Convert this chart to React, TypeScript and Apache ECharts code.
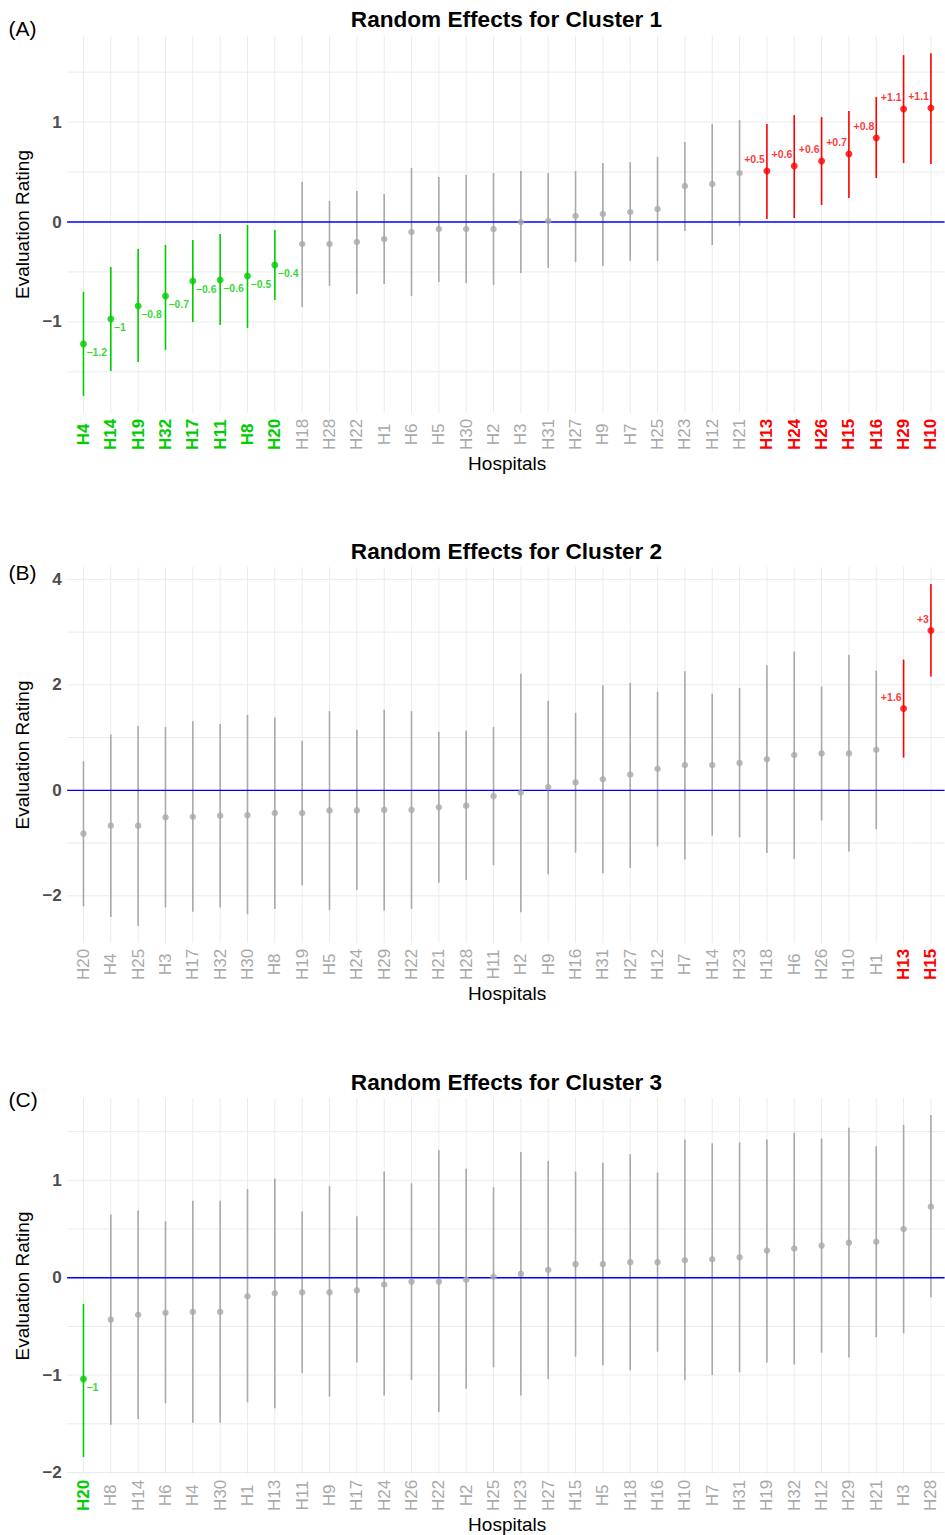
import React, { useEffect, useRef } from "react";
import * as echarts from "echarts";

// ---------------- DATA ----------------
const titles = ["Random Effects for Cluster 1", "Random Effects for Cluster 2", "Random Effects for Cluster 3"];
const tags = ["(A)", "(B)", "(C)"];
const xAxisTitle = "Hospitals";
const yAxisTitle = "Evaluation Rating";

// Cluster 1
const hospitals1 = ["H4","H14","H19","H32","H17","H11","H8","H20","H18","H28","H22","H1","H6","H5","H30","H2","H3","H31","H27","H9","H7","H25","H23","H12","H21","H13","H24","H26","H15","H16","H29","H10"];
const estimate1 = [-1.22,-0.97,-0.84,-0.74,-0.59,-0.58,-0.54,-0.43,-0.22,-0.22,-0.20,-0.17,-0.10,-0.07,-0.07,-0.07,0.00,0.01,0.06,0.08,0.10,0.13,0.36,0.38,0.49,0.51,0.56,0.61,0.68,0.84,1.13,1.14];
const lower1 = [-1.74,-1.49,-1.40,-1.28,-1.00,-1.03,-1.06,-0.78,-0.85,-0.64,-0.72,-0.62,-0.74,-0.60,-0.61,-0.63,-0.51,-0.46,-0.40,-0.44,-0.39,-0.39,-0.09,-0.23,-0.04,0.03,0.04,0.17,0.24,0.44,0.59,0.58];
const upper1 = [-0.70,-0.45,-0.27,-0.23,-0.18,-0.12,-0.03,-0.08,0.40,0.21,0.31,0.28,0.54,0.45,0.47,0.49,0.51,0.49,0.51,0.59,0.60,0.65,0.80,0.98,1.02,0.98,1.07,1.05,1.11,1.25,1.67,1.69];

// Cluster 2
const hospitals2 = ["H20","H4","H25","H3","H17","H32","H30","H8","H19","H5","H24","H29","H22","H21","H28","H11","H2","H9","H16","H31","H27","H12","H7","H14","H23","H18","H6","H26","H10","H1","H13","H15"];
const estimate2 = [-0.82,-0.67,-0.67,-0.51,-0.50,-0.48,-0.47,-0.43,-0.43,-0.38,-0.38,-0.37,-0.37,-0.32,-0.29,-0.11,-0.04,0.06,0.15,0.21,0.30,0.41,0.48,0.48,0.52,0.59,0.67,0.70,0.70,0.77,1.55,3.03];
const lower2 = [-2.20,-2.40,-2.57,-2.22,-2.30,-2.22,-2.35,-2.25,-1.80,-2.27,-1.89,-2.28,-2.25,-1.75,-1.70,-1.42,-2.31,-1.59,-1.18,-1.57,-1.47,-1.06,-1.31,-0.86,-0.89,-1.19,-1.30,-0.57,-1.16,-0.74,0.62,2.16];
const upper2 = [0.55,1.06,1.22,1.20,1.31,1.26,1.43,1.38,0.94,1.50,1.15,1.53,1.50,1.11,1.13,1.20,2.21,1.70,1.47,1.99,2.04,1.87,2.26,1.83,1.94,2.37,2.63,1.97,2.57,2.27,2.48,3.91];

// Cluster 3
const hospitals3 = ["H20","H8","H14","H6","H4","H30","H1","H13","H11","H9","H17","H24","H26","H22","H2","H25","H23","H27","H15","H5","H18","H16","H10","H7","H31","H19","H32","H12","H29","H21","H3","H28"];
const estimate3 = [-1.04,-0.43,-0.38,-0.36,-0.35,-0.35,-0.19,-0.16,-0.15,-0.15,-0.13,-0.07,-0.04,-0.04,-0.02,0.01,0.04,0.08,0.14,0.14,0.16,0.16,0.18,0.19,0.21,0.28,0.30,0.33,0.36,0.37,0.50,0.73];
const lower3 = [-1.84,-1.51,-1.45,-1.29,-1.49,-1.49,-1.28,-1.34,-0.98,-1.22,-0.87,-1.21,-1.05,-1.38,-1.14,-0.92,-1.21,-1.04,-0.81,-0.90,-0.95,-0.76,-1.05,-1.00,-0.97,-0.87,-0.89,-0.77,-0.82,-0.61,-0.57,-0.20];
const upper3 = [-0.27,0.65,0.69,0.58,0.79,0.79,0.91,1.02,0.68,0.94,0.63,1.09,0.97,1.31,1.12,0.93,1.29,1.20,1.09,1.18,1.27,1.08,1.42,1.38,1.39,1.42,1.49,1.43,1.54,1.35,1.57,1.67];

// y tick labels and grid lines
const yTicks1 = [-1, 0, 1];
const yGrid1 = [-1.5, -1, -0.5, 0.5, 1, 1.5];
const yTicks2 = [-2, 0, 2, 4];
const yGrid2 = [-2, -1, 1, 2, 3, 4];
const yTicks3 = [-2, -1, 0, 1];
const yGrid3 = [-2, -1.5, -1, -0.5, 0.5, 1, 1.5];
const referenceValue = 0;

// ---------------- STYLE / LAYOUT ----------------
const FONT = '"Liberation Sans", Arial, Helvetica, sans-serif';
const COL_UP = "#ff0000";
const COL_DOWN = "#00cd00";
const COL_NS = "#a9a9a9";
const GRID_COL = "#ebebeb";

const gridLeft = 69.8;
const gridWidth = 874.8;
const panelTop = [36, 567, 1098];
const panelHeight = [377, 376, 378];
const titleY = [19.5, 551, 1082];
const tagY = [28.5, 572.5, 1099];

const panels = [
  { hosp: hospitals1, est: estimate1, lo: lower1, hi: upper1, ticks: yTicks1, grid: yGrid1 },
  { hosp: hospitals2, est: estimate2, lo: lower2, hi: upper2, ticks: yTicks2, grid: yGrid2 },
  { hosp: hospitals3, est: estimate3, lo: lower3, hi: upper3, ticks: yTicks3, grid: yGrid3 },
];

const minus = (s: string) => s.replace("-", "\u2212");
const fmtTick = (v: number) => minus(String(Math.round(v * 1000) / 1000));
const fmtValue = (v: number) => {
  const r = Math.round(v * 10) / 10;
  const s = String(Math.abs(r));
  return (r > 0 ? "+" : r < 0 ? "\u2212" : "") + s;
};

function buildOption() {
  const grid: any[] = [];
  const xAxis: any[] = [];
  const yAxis: any[] = [];
  const series: any[] = [];
  const graphic: any[] = [];

  panels.forEach((p, k) => {
    const cls = p.hosp.map((_, i) => (p.lo[i] > 0 ? "r" : p.hi[i] < 0 ? "g" : "n"));
    const colors = cls.map((c) => (c === "r" ? COL_UP : c === "g" ? COL_DOWN : COL_NS));
    const dMin = Math.min(...p.lo);
    const dMax = Math.max(...p.hi);
    const pad = (dMax - dMin) * 0.05;

    grid.push({ left: gridLeft, width: gridWidth, top: panelTop[k], height: panelHeight[k], containLabel: false });
    xAxis.push({
      type: "category",
      gridIndex: k,
      data: p.hosp,
      boundaryGap: true,
      axisLine: { show: false },
      axisTick: { show: false },
      splitLine: { show: false },
      name: xAxisTitle,
      nameLocation: "middle",
      nameGap: 39,
      nameTextStyle: { fontFamily: FONT, fontSize: 19, color: "#000" },
      axisLabel: {
        interval: 0,
        rotate: 90,
        align: "center",
        verticalAlign: "middle",
        margin: 21.5,
        formatter: (val: string, idx: number) => `{${cls[idx]}|${val}}`,
        rich: {
          r: { color: COL_UP, fontWeight: "bold", fontSize: 17, fontFamily: FONT },
          g: { color: COL_DOWN, fontWeight: "bold", fontSize: 17, fontFamily: FONT },
          n: { color: COL_NS, fontWeight: "normal", fontSize: 17, fontFamily: FONT },
        },
      },
    });
    yAxis.push({
      type: "value",
      gridIndex: k,
      min: dMin - pad,
      max: dMax + pad,
      axisLine: { show: false },
      axisTick: { show: false },
      splitLine: { show: false },
      name: yAxisTitle,
      nameLocation: "middle",
      nameGap: 31,
      nameTextStyle: { fontFamily: FONT, fontSize: 19, color: "#000" },
      axisLabel: {
        margin: 8,
        fontFamily: FONT,
        fontSize: 17,
        fontWeight: "bold",
        color: "#4d4d4d",
        formatter: (v: number) => (p.ticks.some((t) => Math.abs(t - v) < 1e-6) ? fmtTick(v) : ""),
      },
    });

    // vertical grid lines at each category
    series.push({
      type: "custom",
      xAxisIndex: k,
      yAxisIndex: k,
      silent: true,
      z: 0,
      data: p.hosp.map((_, i) => [i, 0]),
      encode: { x: 0, y: 1 },
      renderItem: (params: any, api: any) => {
        const cs = params.coordSys;
        const x = api.coord([api.value(0), 0])[0];
        return {
          type: "line",
          shape: { x1: x, y1: cs.y, x2: x, y2: cs.y + cs.height },
          style: { stroke: GRID_COL, lineWidth: 1 },
        };
      },
    });
    // horizontal grid lines
    series.push({
      type: "custom",
      xAxisIndex: k,
      yAxisIndex: k,
      silent: true,
      z: 0,
      data: p.grid.map((v) => [0, v]),
      encode: { x: 0, y: 1 },
      renderItem: (params: any, api: any) => {
        const cs = params.coordSys;
        const y = api.coord([0, api.value(1)])[1];
        return {
          type: "line",
          shape: { x1: cs.x - 2.7, y1: y, x2: cs.x + cs.width, y2: y },
          style: { stroke: GRID_COL, lineWidth: 1 },
        };
      },
    });
    // error bars
    series.push({
      type: "custom",
      xAxisIndex: k,
      yAxisIndex: k,
      silent: true,
      z: 2,
      data: p.hosp.map((_, i) => [i, p.lo[i], p.hi[i]]),
      encode: { x: 0, y: [1, 2] },
      renderItem: (params: any, api: any) => {
        const i = api.value(0);
        const a = api.coord([i, api.value(1)]);
        const b = api.coord([i, api.value(2)]);
        return {
          type: "line",
          shape: { x1: a[0], y1: a[1], x2: b[0], y2: b[1] },
          style: { stroke: colors[params.dataIndex], lineWidth: 1.6 },
        };
      },
    });
    // reference line at 0
    series.push({
      type: "custom",
      xAxisIndex: k,
      yAxisIndex: k,
      silent: true,
      z: 3,
      data: [[0, referenceValue]],
      encode: { x: 0, y: 1 },
      renderItem: (params: any, api: any) => {
        const cs = params.coordSys;
        const y = api.coord([0, api.value(1)])[1];
        return {
          type: "line",
          shape: { x1: cs.x - 2.7, y1: y, x2: cs.x + cs.width, y2: y },
          style: { stroke: "#0000ff", lineWidth: 1.3 },
        };
      },
    });
    // points with labels
    series.push({
      type: "scatter",
      xAxisIndex: k,
      yAxisIndex: k,
      silent: true,
      z: 5,
      symbol: "circle",
      data: p.est.map((v, i) => {
        const c = cls[i];
        return {
          value: [i, v],
          symbolSize: c === "n" ? 6.5 : 7,
          itemStyle: { color: colors[i] },
          label:
            c === "n"
              ? { show: false }
              : {
                  show: true,
                  position: "inside",
                  align: c === "g" ? "left" : "right",
                  verticalAlign: "middle",
                  offset: c === "g" ? [3, 8] : [-2, -12],
                  formatter: fmtValue(v),
                  color: colors[i],
                  fontFamily: FONT,
                  fontWeight: "bold",
                  fontSize: 10.5,
                },
        };
      }),
    });

    graphic.push({
      type: "text",
      x: gridLeft + gridWidth / 2 - 0.7,
      y: titleY[k],
      silent: true,
      style: {
        text: titles[k],
        align: "center",
        verticalAlign: "middle",
        fontFamily: FONT,
        fontSize: 22.6,
        fontWeight: "bold",
        fill: "#000",
      },
    });
    graphic.push({
      type: "text",
      x: 8.5,
      y: tagY[k],
      silent: true,
      style: {
        text: tags[k],
        align: "left",
        verticalAlign: "middle",
        fontFamily: FONT,
        fontSize: 21,
        fill: "#000",
      },
    });
  });

  return {
    animation: false,
    backgroundColor: "#ffffff",
    grid,
    xAxis,
    yAxis,
    series,
    graphic,
  };
}

export default function App() {
  const ref = useRef<HTMLDivElement>(null);
  useEffect(() => {
    if (!ref.current) return;
    const chart = echarts.init(ref.current, null, { renderer: "svg" });
    chart.setOption(buildOption() as any);
    return () => chart.dispose();
  }, []);
  return (
    <div
      ref={ref}
      style={{ position: "absolute", left: 0, top: 0, width: 945, height: 1535, background: "#fff" }}
    />
  );
}
